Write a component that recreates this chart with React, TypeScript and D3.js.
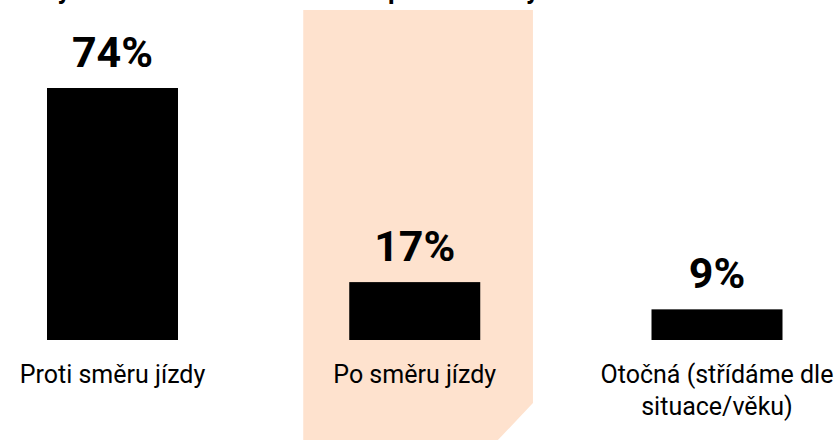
import React from "react";
import * as d3 from "d3";

const categories = ["Proti směru jízdy", "Po směru jízdy", "Otočná (střídáme dle situace/věku)"];
const categoryLines = [["Proti směru jízdy"], ["Po směru jízdy"], ["Otočná (střídáme dle", "situace/věku)"]];
const values = [74, 17, 9];
const valueLabels = ["74%", "17%", "9%"];
const highlighted = "Po směru jízdy";
const title = "Jaký směr sezení dítěte v autě používáte vy?";

const W = 838;
const H = 440;
const FONT = "Roboto, 'Noto Sans', sans-serif";

export default function App() {
  const x = d3.scalePoint<string>().domain(categories).range([112.5, 717]);
  const y = d3.scaleLinear().domain([0, 74]).range([340, 88]);
  const barW = 131;
  const hx = x(highlighted)!;
  const bandL = hx - 111.5;
  const bandR = hx + 118.2;
  const path = d3.path();
  path.moveTo(bandL, 10);
  path.lineTo(bandR, 10);
  path.lineTo(bandR, 403);
  path.lineTo(bandR - 35, 440);
  path.lineTo(bandL, 440);
  path.closePath();

  return (
    <svg
      width={W}
      height={H}
      style={{ position: "absolute", left: 0, top: 0, background: "#fff" }}
      fontFamily={FONT}
    >
      <path d={path.toString()} fill="#fee2ce" />
      <text x={14} y={-1} fontSize={26} fontWeight={700} fill="#000" letterSpacing={0.4}>
        {title}
      </text>
      {categories.map((c, i) => {
        const cx = x(c)!;
        const top = y(values[i]);
        return (
          <g key={c}>
            <rect x={cx - barW / 2} y={top} width={barW} height={y(0) - top} fill="#000" />
            <text x={cx} y={top - 21} textAnchor="middle" fontSize={43} fontWeight={700} fill="#000">
              {valueLabels[i]}
            </text>
            {categoryLines[i].map((ln, j) => (
              <text key={j} x={cx} y={383 + j * 32} textAnchor="middle" fontSize={25} fill="#000">
                {ln}
              </text>
            ))}
          </g>
        );
      })}
    </svg>
  );
}
